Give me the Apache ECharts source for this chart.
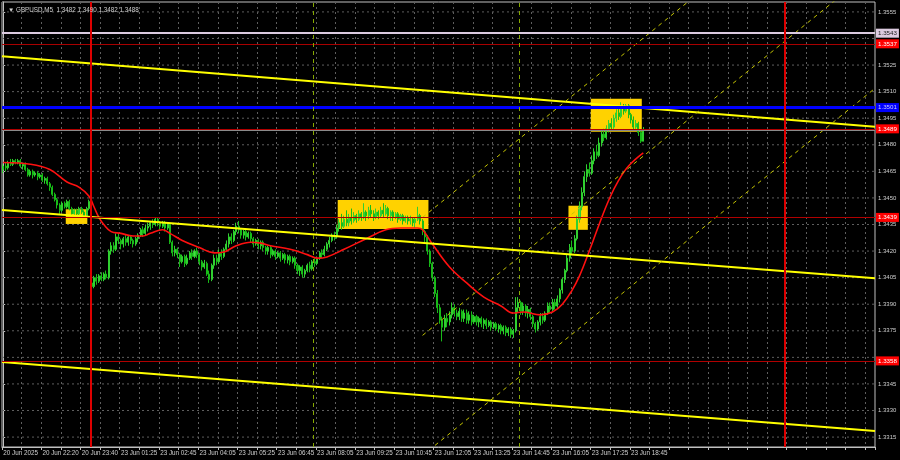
<!DOCTYPE html>
<html><head><meta charset="utf-8">
<script src="https://cdn.jsdelivr.net/npm/echarts@6/dist/echarts.min.js"></script>
<style>html,body{margin:0;padding:0;background:#000;}#c{width:900px;height:460px;}</style>
</head><body><div id="c"></div>
<script>
const titleText = '\u25BC GBPUSD,M5  1.3482 1.3490 1.3482 1.3488';
const timeLabels = ['20 Jun 2025','20 Jun 22:20','20 Jun 23:40','23 Jun 01:25','23 Jun 02:45','23 Jun 04:05','23 Jun 05:25','23 Jun 06:45','23 Jun 08:05','23 Jun 09:25','23 Jun 10:45','23 Jun 12:05','23 Jun 13:25','23 Jun 14:45','23 Jun 16:05','23 Jun 17:25','23 Jun 18:45'];
const totalSlots = 356;
const priceTicks = [1.3555,1.3525,1.3510,1.3495,1.3480,1.3465,1.3450,1.3435,1.3420,1.3405,1.3390,1.3375,1.3345,1.3330,1.3315];
const gridPrices = [1.3555,1.3540,1.3525,1.3510,1.3495,1.3480,1.3465,1.3450,1.3435,1.3420,1.3405,1.3390,1.3375,1.3360,1.3345,1.3330,1.3315];
// [open, close, low, high] per M5 bar
const ohlc = [
[1.3466,1.3468,1.3464,1.3469],[1.3468,1.3467,1.3465,1.3470],[1.3467,1.3470,1.3466,1.3471],[1.3470,1.3469,1.3468,1.3472],
[1.3469,1.3471,1.3468,1.3472],[1.3471,1.3470,1.3469,1.3472],[1.3470,1.3471,1.3469,1.3472],[1.3471,1.3468,1.3467,1.3472],
[1.3468,1.3469,1.3466,1.3470],[1.3469,1.3466,1.3465,1.3470],[1.3466,1.3463,1.3462,1.3467],[1.3463,1.3465,1.3462,1.3466],
[1.3465,1.3463,1.3461,1.3466],[1.3463,1.3464,1.3462,1.3465],[1.3464,1.3462,1.3460,1.3465],[1.3462,1.3463,1.3461,1.3464],
[1.3463,1.3460,1.3459,1.3464],[1.3460,1.3461,1.3458,1.3462],[1.3461,1.3458,1.3457,1.3462],[1.3458,1.3456,1.3454,1.3459],
[1.3456,1.3452,1.3451,1.3457],[1.3452,1.3449,1.3448,1.3453],[1.3449,1.3446,1.3444,1.3450],[1.3446,1.3443,1.3441,1.3447],
[1.3443,1.3447,1.3442,1.3448],[1.3447,1.3445,1.3444,1.3448],[1.3445,1.3448,1.3444,1.3449],[1.3448,1.3444,1.3443,1.3449],
[1.3444,1.3441,1.3440,1.3445],[1.3441,1.3443,1.3440,1.3444],[1.3443,1.3441,1.3440,1.3444],[1.3441,1.3444,1.3440,1.3445],
[1.3444,1.3442,1.3441,1.3445],[1.3442,1.3440,1.3439,1.3443],[1.3440,1.3444,1.3439,1.3445],[1.3444,1.3448,1.3443,1.3449],
[1.3402,1.3400,1.3399,1.3404],[1.3400,1.3405,1.3399,1.3406],[1.3405,1.3403,1.3401,1.3407],[1.3403,1.3406,1.3402,1.3407],
[1.3406,1.3404,1.3403,1.3408],[1.3404,1.3407,1.3403,1.3408],[1.3407,1.3405,1.3404,1.3409],[1.3405,1.3420,1.3404,1.3421],
[1.3420,1.3423,1.3418,1.3425],[1.3423,1.3421,1.3419,1.3425],[1.3421,1.3428,1.3420,1.3430],[1.3428,1.3426,1.3424,1.3430],
[1.3426,1.3424,1.3421,1.3427],[1.3424,1.3427,1.3422,1.3428],[1.3427,1.3425,1.3423,1.3429],[1.3425,1.3428,1.3423,1.3429],
[1.3428,1.3426,1.3424,1.3429],[1.3426,1.3424,1.3422,1.3427],[1.3424,1.3427,1.3423,1.3428],[1.3427,1.3429,1.3425,1.3430],
[1.3429,1.3432,1.3428,1.3433],[1.3432,1.3430,1.3428,1.3434],[1.3430,1.3433,1.3429,1.3435],[1.3433,1.3434,1.3431,1.3436],
[1.3434,1.3436,1.3432,1.3437],[1.3436,1.3435,1.3433,1.3438],[1.3435,1.3438,1.3434,1.3439],[1.3438,1.3436,1.3434,1.3439],
[1.3436,1.3434,1.3432,1.3437],[1.3434,1.3436,1.3433,1.3437],[1.3436,1.3433,1.3431,1.3437],[1.3433,1.3435,1.3432,1.3436],
[1.3435,1.3425,1.3424,1.3436],[1.3425,1.3419,1.3417,1.3426],[1.3419,1.3421,1.3417,1.3423],[1.3421,1.3418,1.3416,1.3422],
[1.3418,1.3414,1.3411,1.3419],[1.3414,1.3417,1.3413,1.3418],[1.3417,1.3413,1.3411,1.3418],[1.3413,1.3416,1.3412,1.3418],
[1.3416,1.3419,1.3415,1.3420],[1.3419,1.3417,1.3415,1.3421],[1.3417,1.3420,1.3416,1.3421],[1.3420,1.3418,1.3416,1.3422],
[1.3418,1.3414,1.3412,1.3419],[1.3414,1.3411,1.3409,1.3415],[1.3411,1.3413,1.3410,1.3415],[1.3413,1.3407,1.3406,1.3414],
[1.3407,1.3404,1.3402,1.3409],[1.3404,1.3412,1.3403,1.3413],[1.3412,1.3416,1.3410,1.3418],[1.3416,1.3414,1.3412,1.3418],
[1.3414,1.3419,1.3413,1.3421],[1.3419,1.3417,1.3415,1.3421],[1.3417,1.3421,1.3416,1.3422],[1.3421,1.3424,1.3420,1.3426],
[1.3424,1.3428,1.3422,1.3430],[1.3428,1.3426,1.3424,1.3430],[1.3426,1.3431,1.3425,1.3432],[1.3431,1.3434,1.3429,1.3436],
[1.3434,1.3432,1.3430,1.3437],[1.3432,1.3429,1.3427,1.3433],[1.3429,1.3431,1.3427,1.3432],[1.3431,1.3428,1.3426,1.3432],
[1.3428,1.3430,1.3427,1.3431],[1.3430,1.3427,1.3425,1.3431],[1.3427,1.3424,1.3422,1.3428],[1.3424,1.3426,1.3423,1.3427],
[1.3426,1.3423,1.3421,1.3427],[1.3423,1.3425,1.3421,1.3426],[1.3425,1.3422,1.3420,1.3426],[1.3422,1.3420,1.3418,1.3423],
[1.3420,1.3422,1.3418,1.3423],[1.3422,1.3418,1.3416,1.3423],[1.3418,1.3420,1.3417,1.3421],[1.3420,1.3417,1.3415,1.3421],
[1.3417,1.3419,1.3416,1.3420],[1.3419,1.3416,1.3414,1.3420],[1.3416,1.3418,1.3415,1.3419],[1.3418,1.3415,1.3413,1.3419],
[1.3415,1.3417,1.3413,1.3418],[1.3417,1.3414,1.3412,1.3418],[1.3414,1.3416,1.3413,1.3417],[1.3416,1.3412,1.3410,1.3417],
[1.3412,1.3409,1.3407,1.3413],[1.3409,1.3411,1.3406,1.3412],[1.3411,1.3407,1.3405,1.3412],[1.3407,1.3409,1.3405,1.3410],
[1.3409,1.3412,1.3408,1.3413],[1.3412,1.3410,1.3408,1.3414],[1.3410,1.3414,1.3409,1.3415],[1.3414,1.3413,1.3411,1.3416],
[1.3413,1.3416,1.3412,1.3417],[1.3416,1.3419,1.3415,1.3420],[1.3419,1.3418,1.3416,1.3421],[1.3418,1.3421,1.3417,1.3423],
[1.3421,1.3424,1.3420,1.3425],[1.3424,1.3426,1.3422,1.3428],[1.3426,1.3429,1.3425,1.3430],[1.3429,1.3428,1.3426,1.3431],
[1.3428,1.3433,1.3427,1.3435],[1.3433,1.3436,1.3431,1.3438],[1.3436,1.3434,1.3432,1.3441],[1.3434,1.3438,1.3433,1.3440],
[1.3438,1.3436,1.3434,1.3443],[1.3436,1.3439,1.3434,1.3441],[1.3439,1.3437,1.3435,1.3444],[1.3437,1.3440,1.3436,1.3442],
[1.3440,1.3438,1.3436,1.3441],[1.3438,1.3441,1.3437,1.3443],[1.3441,1.3439,1.3437,1.3442],[1.3439,1.3442,1.3438,1.3447],
[1.3442,1.3440,1.3437,1.3443],[1.3440,1.3443,1.3438,1.3445],[1.3443,1.3441,1.3439,1.3446],[1.3441,1.3439,1.3437,1.3443],
[1.3439,1.3442,1.3438,1.3444],[1.3442,1.3440,1.3438,1.3443],[1.3440,1.3443,1.3439,1.3445],[1.3443,1.3441,1.3439,1.3447],
[1.3441,1.3444,1.3440,1.3446],[1.3444,1.3440,1.3438,1.3445],[1.3440,1.3442,1.3437,1.3443],[1.3442,1.3439,1.3437,1.3443],
[1.3439,1.3441,1.3438,1.3442],[1.3441,1.3438,1.3436,1.3442],[1.3438,1.3440,1.3437,1.3441],[1.3440,1.3437,1.3435,1.3441],
[1.3437,1.3439,1.3436,1.3440],[1.3439,1.3437,1.3435,1.3440],[1.3437,1.3438,1.3435,1.3440],[1.3438,1.3436,1.3434,1.3439],
[1.3436,1.3438,1.3433,1.3439],[1.3438,1.3440,1.3437,1.3445],[1.3440,1.3437,1.3435,1.3441],[1.3437,1.3431,1.3429,1.3438],
[1.3431,1.3428,1.3425,1.3432],[1.3428,1.3420,1.3418,1.3429],[1.3420,1.3413,1.3411,1.3421],[1.3413,1.3405,1.3403,1.3414],
[1.3405,1.3396,1.3394,1.3406],[1.3396,1.3388,1.3385,1.3398],[1.3388,1.3381,1.3379,1.3390],[1.3381,1.3377,1.3369,1.3383],
[1.3377,1.3382,1.3375,1.3384],[1.3382,1.3380,1.3377,1.3385],[1.3380,1.3384,1.3378,1.3386],[1.3384,1.3388,1.3382,1.3391],
[1.3388,1.3385,1.3383,1.3390],[1.3385,1.3383,1.3381,1.3387],[1.3383,1.3386,1.3381,1.3388],[1.3386,1.3382,1.3380,1.3387],
[1.3382,1.3385,1.3380,1.3387],[1.3385,1.3381,1.3379,1.3387],[1.3381,1.3384,1.3379,1.3386],[1.3384,1.3380,1.3378,1.3386],
[1.3380,1.3383,1.3379,1.3384],[1.3383,1.3380,1.3378,1.3384],[1.3380,1.3382,1.3377,1.3383],[1.3382,1.3379,1.3377,1.3383],
[1.3379,1.3381,1.3376,1.3382],[1.3381,1.3378,1.3376,1.3382],[1.3378,1.3380,1.3377,1.3381],[1.3380,1.3377,1.3375,1.3381],
[1.3377,1.3379,1.3376,1.3380],[1.3379,1.3376,1.3375,1.3380],[1.3376,1.3378,1.3374,1.3379],[1.3378,1.3375,1.3373,1.3379],
[1.3375,1.3377,1.3373,1.3378],[1.3377,1.3374,1.3372,1.3378],[1.3374,1.3376,1.3372,1.3377],[1.3376,1.3373,1.3371,1.3377],
[1.3373,1.3375,1.3371,1.3376],[1.3375,1.3388,1.3374,1.3394],[1.3388,1.3391,1.3385,1.3394],[1.3391,1.3386,1.3384,1.3392],
[1.3386,1.3389,1.3384,1.3391],[1.3389,1.3385,1.3383,1.3390],[1.3385,1.3387,1.3382,1.3389],[1.3387,1.3383,1.3381,1.3388],
[1.3383,1.3379,1.3377,1.3384],[1.3379,1.3376,1.3374,1.3380],[1.3376,1.3380,1.3375,1.3381],[1.3380,1.3383,1.3378,1.3385],
[1.3383,1.3381,1.3379,1.3385],[1.3381,1.3385,1.3380,1.3386],[1.3385,1.3389,1.3384,1.3391],[1.3389,1.3387,1.3385,1.3391],
[1.3387,1.3391,1.3386,1.3393],[1.3391,1.3389,1.3387,1.3393],[1.3389,1.3393,1.3388,1.3395],[1.3393,1.3398,1.3391,1.3399],
[1.3398,1.3404,1.3396,1.3405],[1.3404,1.3409,1.3402,1.3410],[1.3409,1.3416,1.3408,1.3418],[1.3416,1.3422,1.3414,1.3424],
[1.3422,1.3420,1.3418,1.3426],[1.3420,1.3427,1.3419,1.3429],[1.3427,1.3438,1.3426,1.3440],[1.3438,1.3445,1.3436,1.3448],
[1.3445,1.3453,1.3443,1.3456],[1.3453,1.3462,1.3451,1.3465],[1.3462,1.3466,1.3459,1.3469],[1.3466,1.3464,1.3462,1.3470],
[1.3464,1.3471,1.3463,1.3474],[1.3471,1.3476,1.3469,1.3478],[1.3476,1.3474,1.3472,1.3480],[1.3474,1.3481,1.3473,1.3484],
[1.3481,1.3486,1.3479,1.3488],[1.3486,1.3484,1.3482,1.3489],[1.3484,1.3489,1.3483,1.3491],[1.3489,1.3492,1.3487,1.3494],
[1.3492,1.3490,1.3488,1.3495],[1.3490,1.3495,1.3489,1.3497],[1.3495,1.3498,1.3493,1.3500],[1.3498,1.3496,1.3494,1.3501],
[1.3496,1.3501,1.3495,1.3504],[1.3501,1.3499,1.3497,1.3503],[1.3499,1.3502,1.3498,1.3503],[1.3502,1.3497,1.3495,1.3503],
[1.3497,1.3494,1.3492,1.3498],[1.3494,1.3490,1.3488,1.3496],[1.3490,1.3492,1.3489,1.3494],[1.3492,1.3487,1.3485,1.3493],
[1.3487,1.3482,1.3481,1.3488],[1.3482,1.3488,1.3482,1.3490]
];
// moving average: [bar index, price]
const maPoints = [[0,1.3470],[11,1.3469],[19,1.3466],[26,1.3459],[31,1.3456],[35,1.3451],[37,1.3445],[39,1.3439],[41,1.3435],[44,1.3431],[48,1.3430],[53,1.34285],[57,1.34285],[60,1.3430],[65,1.3432],[68,1.3430],[73,1.3426],[80,1.3422],[86,1.3419],[90,1.34195],[95,1.3423],[101,1.3425],[105,1.34245],[109,1.3423],[117,1.3421],[124,1.3418],[128,1.3416],[132,1.34167],[139,1.3421],[148,1.3427],[156,1.3432],[162,1.3433],[169,1.3433],[171,1.3432],[175,1.3424],[182,1.3411],[189,1.3402],[196,1.3394],[203,1.3389],[208,1.3385],[212,1.33856],[219,1.3384],[224,1.33856],[228,1.3390],[232,1.3398],[235,1.3406],[239,1.3420],[243,1.3435],[247,1.3449],[251,1.3460],[255,1.3468],[261,1.34754]];
const trendLines = [[[-0.5,1.35300],[355.5,1.34902]],[[-0.5,1.34432],[355.5,1.34046]],[[-0.5,1.33574],[355.5,1.33184]]];
const channelLines = [[[171,1.34390],[290,1.35728]],[[171,1.33724],[355.5,1.35798]],[[171,1.33046],[355.5,1.35119]]];
const boxes = [[25.5,34.3,1.34436,1.34353],[136.4,173.4,1.34488,1.34325],[230.5,238.4,1.34456,1.34320],[239.6,260.4,1.35060,1.34874]];
const levels = [1.3543,1.3537,1.3501,1.3489,1.3439,1.3358];
const dayLines = [35.5,318.5];
const sessionLines = [126.5,210.5];

const FONT = 'Liberation Sans';
const levelStyle = [
  {line:'#dccbe0', w:2, bg:'#dccbe0', fg:'#202020'},
  {line:'#a80000', w:1, bg:'#ff0000', fg:'#ffffff'},
  {line:'#0000ff', w:3, bg:'#0000ff', fg:'#c8c8ff'},
  {line:'#b00000', w:1, bg:'#ff0000', fg:'#ffffff'},
  {line:'#b00000', w:1, bg:'#ff0000', fg:'#ffffff'},
  {line:'#b00000', w:1, bg:'#ff0000', fg:'#ffffff'}
];
const categories = Array.from({length: totalSlots}, (_, i) => String(i));
const lastClose = ohlc[ohlc.length - 1][1];

const series = [];
gridPrices.forEach(v => series.push({
  type:'line', xAxisIndex:1, data:[[-0.5,v],[totalSlots-0.5,v]], symbol:'none', silent:true, z:0,
  lineStyle:{color:'#5e5e5e', width:1, type:[2,3]}
}));
series.push({
  type:'line', xAxisIndex:1, data:[], silent:true, z:1,
  markArea:{silent:true, z:1, itemStyle:{color:'#ffd200'},
    data: boxes.map(b => [{xAxis:b[0], yAxis:b[2]}, {xAxis:b[1], yAxis:b[3]}])}
});
series.push({
  type:'candlestick', xAxisIndex:0, data:ohlc, z:3, barWidth:'62%', silent:true,
  itemStyle:{color:'#48dc48', color0:'#0f9e0f', borderColor:'#30d030', borderColor0:'#18bc18', borderWidth:1}
});
series.push({
  type:'line', xAxisIndex:1, data:maPoints, smooth:0.4, symbol:'none', silent:true, z:4,
  lineStyle:{color:'#ff1010', width:1.6}
});
trendLines.forEach(t => series.push({
  type:'line', xAxisIndex:1, data:t, symbol:'none', silent:true, z:4,
  lineStyle:{color:'#ffff00', width:2}
}));
channelLines.forEach(t => series.push({
  type:'line', xAxisIndex:1, data:t, symbol:'none', silent:true, z:4,
  lineStyle:{color:'#c4c400', width:1, type:[4,4]}
}));
const ml = [];
ml.push({yAxis:lastClose, lineStyle:{color:'#8a8a8a', width:1, type:'solid'}, label:{show:false}});
levels.forEach((v, k) => {
  const s = levelStyle[k];
  ml.push({yAxis:v, lineStyle:{color:s.line, width:s.w, type:'solid'},
    label:{show:true, position:'end', distance:1, formatter:v.toFixed(4), backgroundColor:s.bg, color:s.fg,
      fontSize:6.2, fontFamily:FONT, padding:[2,2,1,2]}});
});
dayLines.forEach(x => ml.push({xAxis:x, lineStyle:{color:'#dd0000', width:2, type:'solid'}, label:{show:false}}));
sessionLines.forEach(x => ml.push({xAxis:x, lineStyle:{color:'#86a800', width:1, type:[4,4]}, label:{show:false}}));
series.push({
  type:'line', xAxisIndex:1, data:[], silent:true, z:5,
  markLine:{silent:true, precision:6, symbol:['none','none'], animation:false, data:ml}
});

const chart = echarts.init(document.getElementById('c'), null, {renderer:'canvas'});
chart.setOption({
  animation:false,
  backgroundColor:'#000000',
  title:{text:titleText, left:3, top:2, textStyle:{color:'#cfcfcf', fontSize:6.3, fontWeight:'normal', fontFamily:FONT}},
  grid:{left:2, right:25, top:2, bottom:13, show:true, borderColor:'#c0c0c0', borderWidth:1, backgroundColor:'#000'},
  xAxis:[{
    type:'category', data:categories, boundaryGap:true,
    axisLine:{show:true, lineStyle:{color:'#c0c0c0'}},
    axisTick:{show:true, interval:(i)=> i % 8 === 0, length:3, lineStyle:{color:'#c0c0c0'}},
    axisLabel:{interval:(i)=> i % 16 === 0, formatter:(v, i)=> timeLabels[Math.round(i/16)] || '', align:'left',
      color:'#cfcfcf', fontSize:6.3, fontFamily:FONT, margin:3},
    splitLine:{show:true, interval:(i)=> i % 8 === 0, lineStyle:{color:'#5e5e5e', width:1, type:[2,3]}}
  },{
    type:'value', min:-0.5, max:totalSlots-0.5, show:false
  }],
  yAxis:[{
    type:'value', position:'right', min:1.33094, max:1.35606,
    axisLine:{show:true, lineStyle:{color:'#c0c0c0'}},
    axisTick:{show:true, customValues:priceTicks, length:2, lineStyle:{color:'#c0c0c0'}},
    axisLabel:{customValues:priceTicks, formatter:(v)=> Number(v).toFixed(4), color:'#cfcfcf', fontSize:6, fontFamily:FONT, margin:3},
    splitLine:{show:false}
  }],
  series: series
});
</script>
</body></html>
